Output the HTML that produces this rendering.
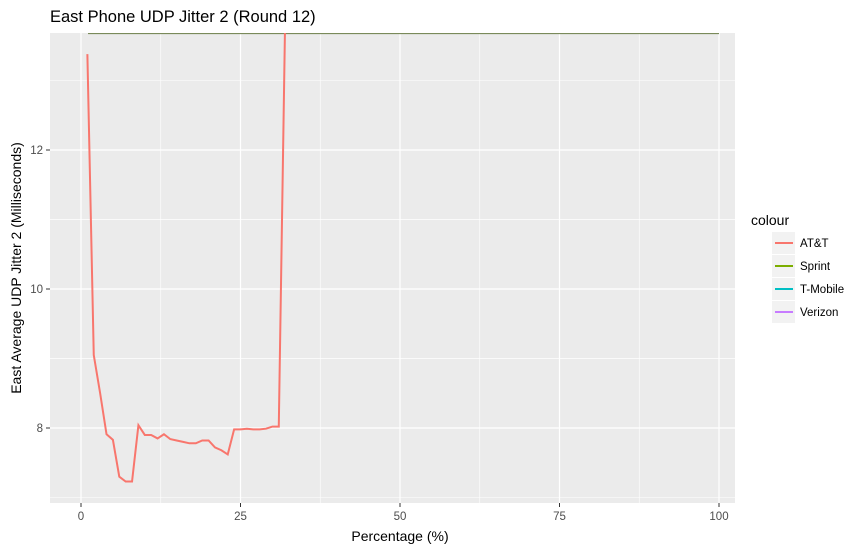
<!DOCTYPE html>
<html><head><meta charset="utf-8"><style>
body{margin:0;background:#fff;font-family:"Liberation Sans",Arial,sans-serif;}
svg text{font-family:"Liberation Sans",Arial,sans-serif;}
</style></head><body>
<svg id="c" width="862" height="550">
<text x="50" y="22" font-size="16.5" fill="#000">East Phone UDP Jitter 2 (Round 12)</text>
<rect x="50" y="33" width="685" height="470" fill="#EBEBEB"/>
<g id="grid"></g>
<g id="series" clip-path="url(#clip)"></g>
<defs><clipPath id="clip"><rect x="50" y="33" width="685" height="470"/></clipPath></defs>
<g id="axes"></g>
<text x="400" y="541" font-size="14" text-anchor="middle">Percentage (%)</text>
<text transform="translate(21,268) rotate(-90)" font-size="14" text-anchor="middle">East Average UDP Jitter 2 (Milliseconds)</text>
<g id="legend">
<text x="751" y="225" font-size="14">colour</text>
</g>
</svg>
<script>
const xTicks=[0,25,50,75,100];
const yTicks=[8,10,12];
const attPct=[1,2,3,4,5,6,7,8,9,10,11,12,13,14,15,16,17,18,19,20,21,22,23,24,25,26,27,28,29,30,31,32];
const attVal=[13.38,9.05,8.5,7.91,7.83,7.3,7.23,7.23,8.04,7.9,7.9,7.85,7.91,7.84,7.82,7.8,7.78,7.78,7.82,7.82,7.72,7.68,7.62,7.98,7.98,7.99,7.98,7.98,7.99,8.02,8.02,13.9];
const otherPct=[1.1,100];
const otherVal=[20,20];
const legendNames=["AT&T","Sprint","T-Mobile","Verizon"];
const legendColors=["#F8766D","#7CAE00","#00BFC4","#C77CFF"];
const NS="http://www.w3.org/2000/svg";
function X(v){return 81+v*(719-81)/100;}
function Y(v){return 428-(v-8)*69.5;}
function mk(t,a,p){const e=document.createElementNS(NS,t);for(const k in a)e.setAttribute(k,a[k]);p.appendChild(e);return e;}
const grid=document.getElementById('grid'),axes=document.getElementById('axes');
for(let i=0;i<xTicks.length-1;i++){const m=(xTicks[i]+xTicks[i+1])/2;const l=mk('line',{x1:X(m),x2:X(m),y1:33,y2:503,stroke:'#fff','stroke-width':0.6},grid);

}
for(let i=0;i<yTicks.length;i++){for(const m of [yTicks[i]-1,yTicks[i]+1]){if(Y(m)>33&&Y(m)<503){const l=mk('line',{x1:50,x2:735,y1:Y(m),y2:Y(m),stroke:'#fff','stroke-width':0.6},grid);

}}}
xTicks.forEach(t=>{const l=mk('line',{x1:X(t),x2:X(t),y1:33,y2:503,stroke:'#fff','stroke-width':1.2},grid);


mk('line',{x1:X(t),x2:X(t),y1:503,y2:507,stroke:'#333'},axes);
const tx=mk('text',{x:X(t),y:520,'font-size':11.5,'text-anchor':'middle',fill:'#4d4d4d'},axes);tx.textContent=t;

});
yTicks.forEach(t=>{const l=mk('line',{x1:50,x2:735,y1:Y(t),y2:Y(t),stroke:'#fff','stroke-width':1.2},grid);


mk('line',{x1:46,x2:50,y1:Y(t),y2:Y(t),stroke:'#333'},axes);
const tx=mk('text',{x:43,y:Y(t)+4,'font-size':11.5,'text-anchor':'end',fill:'#4d4d4d'},axes);tx.textContent=t;

});
const ser=document.getElementById('series');
const topLine=mk('line',{x1:X(otherPct[0]),x2:X(otherPct[1]),y1:33.5,y2:33.5,stroke:'#7a8a5a','stroke-width':1.2},ser);


const attLine=mk('polyline',{points:attPct.map((v,i)=>X(v)+','+Y(attVal[i])).join(' '),fill:'none',stroke:'#F8766D','stroke-width':2},ser);


const lg=document.getElementById('legend');
legendNames.forEach((n,i)=>{const y=243+i*23;
const r=mk('rect',{x:772,y:y-11,width:23,height:22,fill:'#F2F2F2'},lg);


const l=mk('line',{x1:775,x2:793,y1:y,y2:y,stroke:legendColors[i],'stroke-width':2},lg);


const t=mk('text',{x:800,y:y+4,'font-size':11.5},lg);t.textContent=n;

});
</script>
</body></html>
